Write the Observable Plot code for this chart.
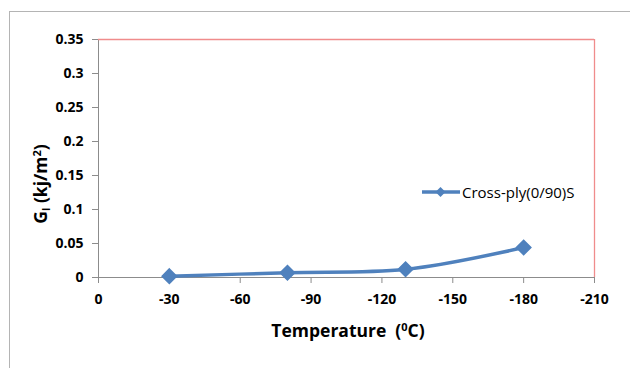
<!DOCTYPE html>
<html>
<head>
<meta charset="utf-8">
<script src="https://cdn.jsdelivr.net/npm/d3@7"></script>
<script src="https://cdn.jsdelivr.net/npm/@observablehq/plot@0.6"></script>
<style>
  body { margin: 0; background: #fff; }
  #wrap { position: relative; width: 630px; height: 368px; overflow: hidden; font-family: "Open Sans", "Liberation Sans", sans-serif; }
  #border { position: absolute; left: 9px; top: 11px; width: 640px; height: 400px; border-left: 1px solid #b4b4b4; border-top: 1px solid #b4b4b4; }
  #chart svg text { font-size: 14px !important; font-weight: bold; font-family: "Open Sans", "Liberation Sans", sans-serif; }
  .lbl { position: absolute; font-weight: bold; font-size: 17.5px; color: #000; white-space: nowrap; }
  #ylab { left: 40px; top: 184px; transform: translate(-50%, -50%) rotate(-90deg); }
  #xlab { left: 348px; top: 330px; transform: translate(-50%, -50%); }
  #legend { position: absolute; left: 421px; top: 182px; font-size: 15px; display: flex; align-items: center; }
  sup { font-size: 11px; vertical-align: 6px; }
  sub { font-size: 10px; vertical-align: -3px; }
</style>
</head>
<body>
<div id="wrap">
  <div id="border"></div>
  <div id="chart"></div>
  <div class="lbl" id="ylab">G<sub>I</sub> (kj/m<sup>2</sup>)</div>
  <div class="lbl" id="xlab">Temperature &nbsp;(<sup>0</sup>C)</div>
  <div id="legend"></div>
</div>
<script>
const temperature = [-30, -80, -130, -180];
const energy = [0.002, 0.007, 0.012, 0.044];
const seriesName = "Cross-ply(0/90)S";
const xTicks = [0, -30, -60, -90, -120, -150, -180, -210];
const yTicks = [0, 0.05, 0.1, 0.15, 0.2, 0.25, 0.3, 0.35];

const data = temperature.map((t, i) => ({t, g: energy[i]}));
const blue = "#4f81bd";
const yFmt = d => String(+d.toFixed(2));

const chart = Plot.plot({
  width: 630,
  height: 368,
  marginLeft: 98,
  marginRight: 36,
  marginTop: 39,
  marginBottom: 91,
  style: {fontFamily: "'Open Sans', 'Liberation Sans', sans-serif", fontWeight: "bold", background: "transparent", color: "#000"},
  x: {domain: [0, -210], label: null},
  y: {domain: [0, 0.35], label: null},
  marks: [
    Plot.axisX({ticks: xTicks, tickSize: 6, tickPadding: 11, stroke: "#8c8c8c", fill: "#000", tickFormat: d => String(d)}),
    Plot.axisY({ticks: yTicks, tickSize: 6, tickPadding: 9, stroke: "#8c8c8c", fill: "#000", tickFormat: yFmt}),
    Plot.ruleY([0], {stroke: "#8c8c8c"}),
    Plot.ruleX([0], {stroke: "#8c8c8c"}),
    Plot.ruleY([0.35], {x1: 0, x2: -210, stroke: "#f08c8c", strokeWidth: 1.3}),
    Plot.ruleX([-210], {y1: 0, y2: 0.35, stroke: "#f08c8c", strokeWidth: 1.3}),
    Plot.line(data, {x: "t", y: "g", stroke: blue, strokeWidth: 3.5, curve: "catmull-rom"}),
    Plot.dot(data, {x: "t", y: "g", symbol: "diamond2", r: 6.5, fill: blue, stroke: blue})
  ]
});
document.getElementById("chart").appendChild(chart);

const leg = document.getElementById("legend");
leg.innerHTML = `<svg width="40" height="14"><line x1="1" y1="7" x2="39" y2="7" stroke="${blue}" stroke-width="3.5"/><path d="M19.5,2 L24.5,7 L19.5,12 L14.5,7 Z" fill="${blue}"/></svg><span style="margin-left:1px">${seriesName}</span>`;
</script>
</body>
</html>
